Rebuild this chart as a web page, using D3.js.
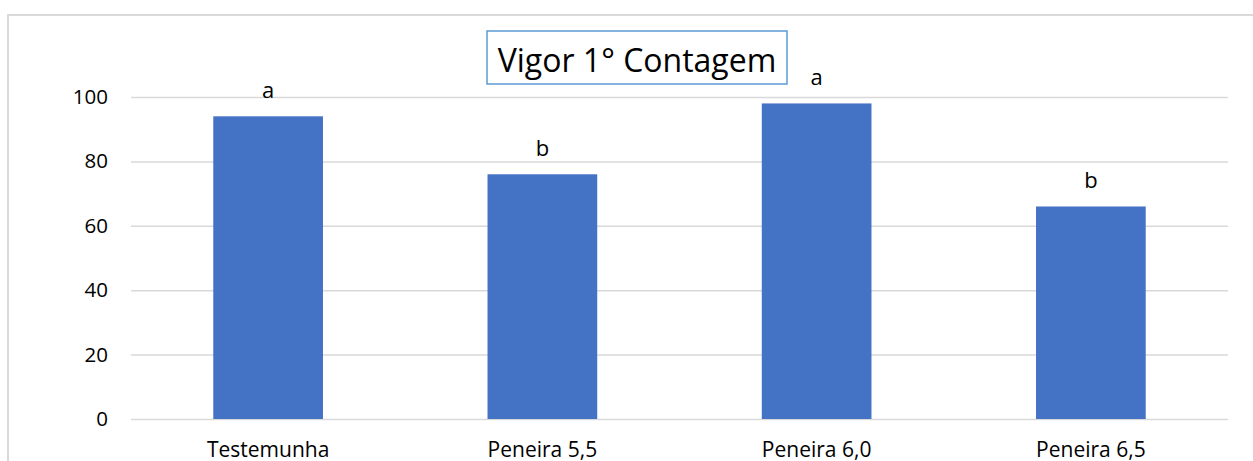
<!DOCTYPE html>
<html><head><meta charset="utf-8">
<script src="https://cdn.jsdelivr.net/npm/d3@7"></script>
<style>html,body{margin:0;padding:0;background:#fff;overflow:hidden}</style>
</head><body>
<svg id="chart" width="1253" height="461"></svg>
<script>
const categories = ["Testemunha", "Peneira 5,5", "Peneira 6,0", "Peneira 6,5"];
const values = [94, 76, 98, 66];
const letters = ["a", "b", "a", "b"];
const yTicks = [0, 20, 40, 60, 80, 100];
const titleText = "Vigor 1° Contagem";

const svg = d3.select("#chart");
const font = "'Open Sans', 'Noto Sans', sans-serif";

// outer chart border
svg.append("rect").attr("x", 8).attr("y", 15).attr("width", 1250).attr("height", 460)
  .attr("fill", "#fff").attr("stroke", "#d9d9d9").attr("stroke-width", 2);

const x = d3.scaleBand().domain(categories).range([131, 1228]).paddingInner(0.6).paddingOuter(0.3);
const y = d3.scaleLinear().domain([0, 100]).range([419, 97]);

// gridlines
const yAxis = d3.axisLeft(y).tickValues(yTicks).tickSize(-(1228 - 131)).tickPadding(23).tickFormat(d3.format("d"));
const ga = svg.append("g").attr("transform", "translate(131,0)").call(yAxis);
ga.select(".domain").remove();
ga.selectAll(".tick line").attr("stroke", "#d9d9d9").attr("stroke-width", 1.5);
ga.selectAll(".tick text").attr("font-family", font).attr("font-size", 20.5).attr("fill", "#000");

// bars
svg.append("g").selectAll("rect").data(values).join("rect")
  .attr("x", (d, i) => x(categories[i]))
  .attr("y", d => y(d))
  .attr("width", x.bandwidth())
  .attr("height", d => y(0) - y(d))
  .attr("fill", "#4472c4");

// letter labels
svg.append("g").selectAll("text").data(values).join("text")
  .attr("x", (d, i) => x(categories[i]) + x.bandwidth() / 2)
  .attr("y", d => y(d) - 18)
  .attr("text-anchor", "middle")
  .attr("font-family", font).attr("font-size", 22).attr("fill", "#000")
  .text((d, i) => letters[i]);

// x axis labels
const xAxis = d3.axisBottom(x).tickSize(0).tickPadding(23);
const gx = svg.append("g").attr("transform", "translate(0,419)").call(xAxis);
gx.select(".domain").remove();
gx.selectAll(".tick text").attr("font-family", font).attr("font-size", 21).attr("fill", "#000");

// title box
svg.append("rect").attr("x", 487).attr("y", 31).attr("width", 300).attr("height", 53)
  .attr("fill", "#fff").attr("stroke", "#5b9bd5").attr("stroke-width", 1.5);
svg.append("text").attr("x", 637).attr("y", 72).attr("text-anchor", "middle")
  .attr("font-family", font).attr("font-size", 32).attr("fill", "#000").text(titleText);
</script>
</body></html>
